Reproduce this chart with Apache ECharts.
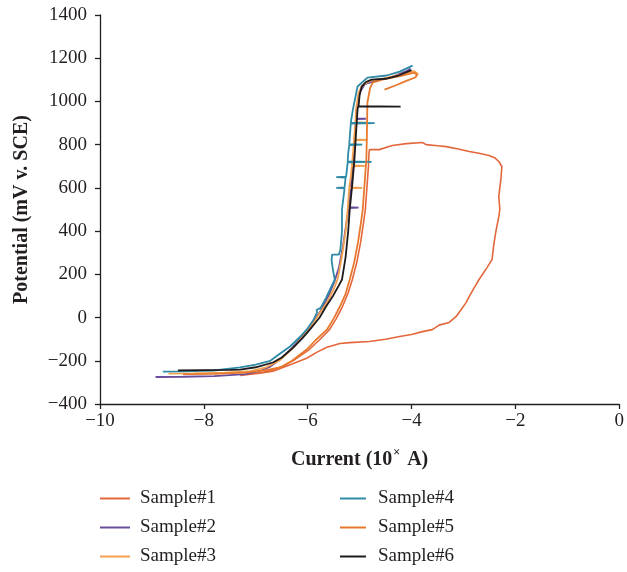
<!DOCTYPE html>
<html>
<head>
<meta charset="utf-8">
<script src="https://cdn.jsdelivr.net/npm/echarts@6/dist/echarts.min.js"></script>
<style>
html,body{margin:0;padding:0;background:#fff;}
#chart{width:627px;height:572px;}
</style>
</head>
<body>
<div id="chart"></div>
<script>
// ---- data (current exponent log10(A), potential mV v. SCE) ----
var seriesNames = ['Sample#1','Sample#2','Sample#3','Sample#4','Sample#5','Sample#6'];
var xTicks = [-10,-8,-6,-4,-2,0];
var yTicks = [-400,-200,0,200,400,600,800,1000,1200,1400];

var sample1 = [
  [-7.3,-268],[-6.9,-255],[-6.5,-228],[-6.25,-195],[-5.97,-148],[-5.78,-105],[-5.58,-56],[-5.45,-5],[-5.33,51],[-5.22,115],[-5.14,176],[-5.05,260],[-4.98,350],[-4.93,430],[-4.89,500],[-4.86,600],[-4.83,700],[-4.82,760],[-4.81,777],
  [-4.62,777],[-4.45,790],[-4.37,796],[-4.1,805],[-3.79,810],[-3.72,800],[-3.5,795],[-3.33,791],[-3.1,780],[-2.89,768],[-2.7,760],[-2.51,750],[-2.4,740],[-2.32,722],[-2.26,699],[-2.27,670],[-2.28,639],[-2.3,600],[-2.32,560],[-2.3,500],[-2.32,467],[-2.38,393],[-2.42,330],[-2.45,268],[-2.55,230],[-2.7,176],[-2.8,135],[-2.89,97],[-2.95,69],[-3.05,35],[-3.14,5],[-3.28,-23],[-3.47,-35],[-3.6,-56],[-3.79,-65],[-4.0,-78],[-4.23,-88],[-4.5,-100],[-4.81,-111],[-5.19,-116],[-5.38,-120],[-5.63,-137],[-5.82,-160],[-6.02,-188],[-6.3,-215],[-6.67,-248],[-6.92,-258],[-7.3,-268]
];
var sample2 = [
  [-8.93,-275],[-8.4,-274],[-7.8,-271],[-7.2,-262],[-6.9,-245],[-6.72,-227],[-6.5,-188],[-6.3,-140],[-6.1,-85],[-5.93,-30],[-5.77,23],[-5.6,100],[-5.48,170],[-5.4,230],[-5.32,330],[-5.26,430],[-5.21,507],[-5.02,509],[-5.21,511],[-5.16,630],[-5.12,740],[-5.09,850],[-5.07,918],[-4.88,920],[-5.07,922],[-5.06,950],[-5.0,1040],[-4.9,1080],[-4.7,1095],[-4.4,1112],[-4.1,1140],[-4.02,1152]
];
var sample3 = [
  [-8.68,-259],[-8.2,-258],[-7.6,-255],[-7.1,-248],[-6.8,-230],[-6.55,-200],[-6.3,-145],[-6.1,-90],[-5.95,-45],[-5.8,10],[-5.63,70],[-5.5,130],[-5.42,180],[-5.33,300],[-5.27,400],[-5.23,500],[-5.2,598],[-4.95,600],[-5.2,602],[-5.17,650],[-5.15,700],[-4.9,702],[-5.15,704],[-5.12,780],[-5.11,820],[-4.85,822],[-5.11,824],[-5.08,900],[-4.88,902],[-5.08,904],[-5.07,962],[-5.02,1040],[-4.95,1075],[-4.8,1095],[-4.5,1108],[-4.2,1125],[-3.95,1140],[-3.88,1128],[-3.9,1118]
];
var sample4 = [
  [-8.79,-250],[-8.4,-249],[-7.8,-245],[-7.3,-231],[-7.0,-218],[-6.72,-200],[-6.55,-170],[-6.34,-134],[-6.15,-90],[-6.02,-56],[-5.9,-15],[-5.82,23],[-5.83,35],[-5.75,45],[-5.65,90],[-5.57,130],[-5.48,176],[-5.52,230],[-5.54,268],[-5.53,291],[-5.4,291],[-5.37,315],[-5.34,400],[-5.34,500],[-5.29,598],[-5.45,600],[-5.29,602],[-5.27,648],[-5.45,650],[-5.26,652],[-5.23,718],[-4.77,720],[-5.23,722],[-5.22,760],[-5.2,798],[-4.95,800],[-5.2,802],[-5.17,898],[-4.71,900],[-5.17,902],[-5.13,962],[-5.04,1069],[-4.85,1110],[-4.48,1120],[-4.23,1138],[-3.98,1166]
];
var sample5 = [
  [-8.4,-262],[-7.8,-261],[-7.2,-255],[-6.8,-243],[-6.53,-231],[-6.3,-200],[-6.02,-148],[-5.85,-105],[-5.63,-56],[-5.5,-5],[-5.38,51],[-5.27,110],[-5.19,176],[-5.1,260],[-5.03,350],[-4.98,430],[-4.94,500],[-4.91,600],[-4.88,700],[-4.87,731],[-4.86,850],[-4.85,995],[-4.8,1060],[-4.75,1087],[-4.5,1105],[-4.2,1118],[-3.95,1133],[-3.9,1125],[-3.92,1112],[-4.1,1095],[-4.3,1075],[-4.52,1055]
];
var sample6 = [
  [-8.5,-244],[-8.0,-243],[-7.5,-242],[-7.3,-241],[-7.0,-230],[-6.67,-208],[-6.5,-185],[-6.28,-139],[-6.1,-95],[-5.96,-56],[-5.77,0],[-5.65,50],[-5.52,97],[-5.42,140],[-5.34,176],[-5.27,280],[-5.22,400],[-5.19,500],[-5.14,620],[-5.1,731],[-5.07,850],[-5.04,962],[-5.03,976],[-4.21,976],[-5.02,978],[-5.0,1030],[-4.96,1069],[-4.88,1090],[-4.77,1101],[-4.5,1105],[-4.25,1120],[-4.0,1145]
];
var seriesData = [sample1, sample2, sample3, sample4, sample5, sample6];
var seriesColors = ['#e4673c','#6a4c9c','#f2a04e','#2f8aa6','#e8782c','#1f1b1c'];

var serif = '"Liberation Serif", "DejaVu Serif", serif';
var ink = '#231f20';

var chart = echarts.init(document.getElementById('chart'), null, {renderer: 'canvas'});
var series = seriesNames.map(function(n, i){
  return {
    name: n, type: 'line', data: seriesData[i],
    showSymbol: false, symbol: 'none', smooth: false,
    lineStyle: {width: i === 0 ? 1.6 : 1.8, color: seriesColors[i]},
    itemStyle: {color: seriesColors[i]},
    z: 2 + i
  };
});

// one legend component per entry: two columns of three rows
var legendLefts = [100, 100, 100, 340, 340, 340];
var legendTops = [489, 518, 547, 489, 518, 547];
var legends = seriesNames.map(function(n, i){
  return {
    data: [n], orient: 'horizontal', left: legendLefts[i], top: legendTops[i],
    padding: 0, itemWidth: i < 3 ? 30 : 26, itemHeight: 2, icon: 'rect',
    textStyle: {fontFamily: serif, fontSize: 19, color: ink, lineHeight: 18, padding: [0,0,0, i < 3 ? 5 : 7]},
    selectedMode: false
  };
});

chart.setOption({
  animation: false,
  backgroundColor: '#fff',
  grid: {left: 100, right: 6, top: 15, bottom: 168, containLabel: false},
  legend: legends,
  xAxis: {
    type: 'value', min: xTicks[0], max: xTicks[xTicks.length-1], interval: 2,
    name: 'Current (10{sup|×} A)', nameLocation: 'middle', nameGap: 43,
    nameTextStyle: {fontFamily: serif, fontSize: 20, fontWeight: 'bold', color: ink,
      rich: {sup: {fontFamily: serif, fontSize: 12, color: ink, padding: [0,2,14,1]}}},
    axisLine: {show: true, onZero: false, lineStyle: {color: ink, width: 1.3}},
    axisTick: {show: true, inside: false, length: 5, lineStyle: {color: ink, width: 1.3}},
    axisLabel: {fontFamily: serif, fontSize: 19, color: ink, margin: 8,
      formatter: function(v){ return v < 0 ? '\u2212' + Math.abs(v) : String(v); }},
    splitLine: {show: false}
  },
  yAxis: {
    type: 'value', min: yTicks[0], max: yTicks[yTicks.length-1], interval: 200,
    name: 'Potential (mV v. SCE)', nameLocation: 'middle', nameGap: 68, nameRotate: 90,
    nameTextStyle: {fontFamily: serif, fontSize: 20, fontWeight: 'bold', color: ink},
    axisLine: {show: true, onZero: false, lineStyle: {color: ink, width: 1.3}},
    axisTick: {show: true, inside: false, length: 5, lineStyle: {color: ink, width: 1.3}},
    axisLabel: {fontFamily: serif, fontSize: 19, color: ink, margin: 13,
      formatter: function(v){ return v < 0 ? '\u2212' + Math.abs(v) : String(v); }},
    splitLine: {show: false}
  },
  series: series
});
</script>
</body>
</html>
